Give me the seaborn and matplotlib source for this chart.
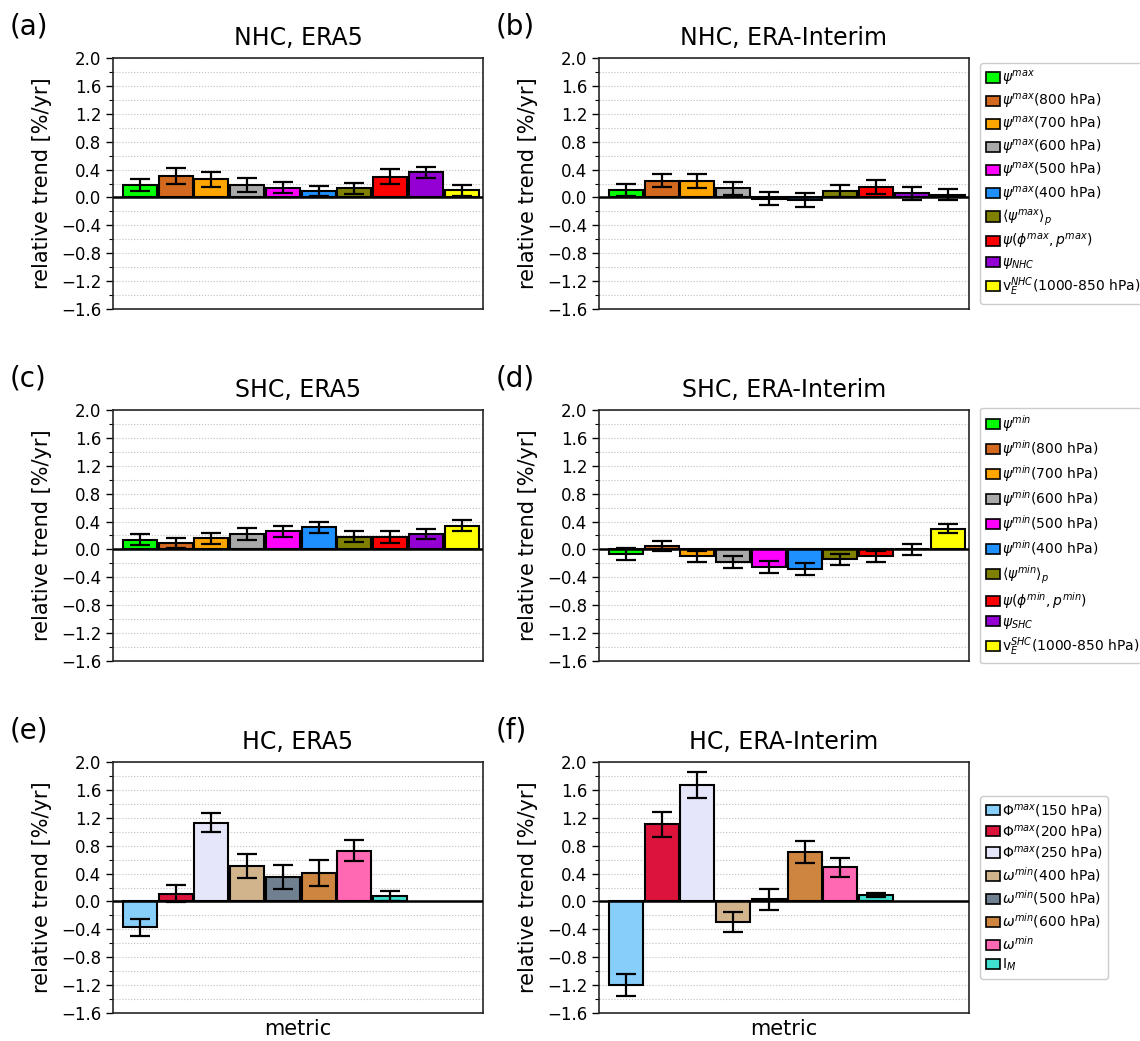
import numpy as np
import pandas as pd
import seaborn as sns
import matplotlib.pyplot as plt
from matplotlib.patches import Patch
from matplotlib.ticker import MultipleLocator

# ---- data ----
nhc_labels = [r'$\psi^{max}$', r'$\psi^{max}$(800 hPa)', r'$\psi^{max}$(700 hPa)',
              r'$\psi^{max}$(600 hPa)', r'$\psi^{max}$(500 hPa)', r'$\psi^{max}$(400 hPa)',
              r'$\langle\psi^{max}\rangle_p$', r'$\psi(\phi^{max}, p^{max})$',
              r'$\psi_{NHC}$', r'v$_E^{NHC}$(1000-850 hPa)']
shc_labels = [r'$\psi^{min}$', r'$\psi^{min}$(800 hPa)', r'$\psi^{min}$(700 hPa)',
              r'$\psi^{min}$(600 hPa)', r'$\psi^{min}$(500 hPa)', r'$\psi^{min}$(400 hPa)',
              r'$\langle\psi^{min}\rangle_p$', r'$\psi(\phi^{min}, p^{min})$',
              r'$\psi_{SHC}$', r'v$_E^{SHC}$(1000-850 hPa)']
hc_labels = [r'$\Phi^{max}$(150 hPa)', r'$\Phi^{max}$(200 hPa)', r'$\Phi^{max}$(250 hPa)',
             r'$\omega^{min}$(400 hPa)', r'$\omega^{min}$(500 hPa)', r'$\omega^{min}$(600 hPa)',
             r'$\omega^{min}$', r'I$_M$']

psi_colors = ['lime', 'chocolate', 'orange', 'darkgray', 'magenta',
              'dodgerblue', 'olive', 'red', 'darkviolet', 'yellow']
hc_colors = ['lightskyblue', 'crimson', 'lavender', 'tan', 'slategray',
             'peru', 'hotpink', 'turquoise']

nhc_era5 = [0.18, 0.31, 0.26, 0.18, 0.14, 0.09, 0.13, 0.30, 0.36, 0.10]
nhc_era5_err = [0.09, 0.11, 0.11, 0.10, 0.075, 0.075, 0.08, 0.105, 0.075, 0.075]
nhc_erai = [0.11, 0.24, 0.24, 0.13, -0.02, -0.04, 0.095, 0.15, 0.06, 0.04]
nhc_erai_err = [0.085, 0.09, 0.10, 0.09, 0.095, 0.10, 0.085, 0.10, 0.09, 0.075]

shc_era5 = [0.14, 0.09, 0.16, 0.22, 0.26, 0.32, 0.18, 0.18, 0.22, 0.34]
shc_era5_err = [0.08, 0.075, 0.083, 0.088, 0.08, 0.08, 0.08, 0.083, 0.076, 0.08]
shc_erai = [-0.07, 0.05, -0.10, -0.18, -0.25, -0.28, -0.14, -0.10, 0.0, 0.30]
shc_erai_err = [0.085, 0.076, 0.08, 0.09, 0.086, 0.08, 0.076, 0.083, 0.08, 0.07]

hc_era5 = [-0.37, 0.11, 1.13, 0.51, 0.35, 0.41, 0.73, 0.08]
hc_era5_err = [0.12, 0.125, 0.135, 0.17, 0.175, 0.185, 0.155, 0.07]
hc_erai = [-1.20, 1.11, 1.67, -0.30, 0.03, 0.71, 0.49, 0.09]
hc_erai_err = [0.155, 0.18, 0.18, 0.145, 0.15, 0.16, 0.14, 0.024]

panels = [
    ('(a)', 'NHC, ERA5', nhc_labels, psi_colors, nhc_era5, nhc_era5_err, False),
    ('(b)', 'NHC, ERA-Interim', nhc_labels, psi_colors, nhc_erai, nhc_erai_err, True),
    ('(c)', 'SHC, ERA5', shc_labels, psi_colors, shc_era5, shc_era5_err, False),
    ('(d)', 'SHC, ERA-Interim', shc_labels, psi_colors, shc_erai, shc_erai_err, True),
    ('(e)', 'HC, ERA5', hc_labels, hc_colors, hc_era5, hc_era5_err, False),
    ('(f)', 'HC, ERA-Interim', hc_labels, hc_colors, hc_erai, hc_erai_err, True),
]

sns.set_style('ticks')
plt.rcParams['font.family'] = ['DejaVu Sans']
for key in ['text.color', 'axes.labelcolor', 'xtick.color', 'ytick.color']:
    plt.rcParams[key] = 'black'

fig = plt.figure(figsize=(11.4, 10.41), dpi=100)
W, H = 1140, 1041
lefts = [113, 599]
tops = [58, 410, 762]
aw, ah = 370, 251

for i, (tag, title, labels, colors, vals, errs, show_leg) in enumerate(panels):
    row, col = divmod(i, 2)
    ax = fig.add_axes([lefts[col] / W, 1 - (tops[row] + ah) / H, aw / W, ah / H])
    df = pd.DataFrame({'metric': labels, 'trend': vals})
    sns.barplot(data=df, x='metric', y='trend', hue='metric', palette=colors,
                order=labels, hue_order=labels, legend=False, width=0.95,
                edgecolor='k', linewidth=1.5, saturation=1, ax=ax)
    ax.errorbar(np.arange(len(vals)), vals, yerr=errs, fmt='none', ecolor='k',
                elinewidth=1.6, capsize=7.5, capthick=1.6, zorder=5)
    ax.axhline(0, color='k', lw=1.8, zorder=4)

    ax.set_xlim(-0.75, 9.6)
    ax.set_ylim(-1.6, 2.0)
    ax.yaxis.set_major_locator(MultipleLocator(0.4))
    ax.yaxis.set_minor_locator(MultipleLocator(0.2))
    ax.yaxis.grid(True, which='both', linestyle=':', color='0.75', lw=0.8)
    ax.set_axisbelow(True)
    ax.set_xticks([])
    ax.tick_params(axis='y', which='major', labelsize=12, length=5, width=1)
    ax.tick_params(axis='y', which='minor', length=3, width=0.8)
    for sp in ax.spines.values():
        sp.set_visible(True)
        sp.set_color('0.15')
        sp.set_linewidth(1.2)

    ax.set_ylabel('relative trend [%/yr]', fontsize=15, labelpad=6)
    ax.set_xlabel('metric' if row == 2 else '', fontsize=15, labelpad=4)
    ax.set_title(title, fontsize=17, pad=9)
    ax.text(-103 / aw, 1 + 45 / ah, tag, transform=ax.transAxes,
            fontsize=20, ha='left', va='top')

    if show_leg:
        handles = [Patch(facecolor=c, edgecolor='k', linewidth=1.2) for c in colors]
        ax.legend(handles, labels, loc='center left', bbox_to_anchor=(1.0, 0.5),
                  fontsize=10, handlelength=1.0, handleheight=0.75,
                  handletextpad=0.15, labelspacing=0.3, borderpad=0.4,
                  borderaxespad=0.8, frameon=True, framealpha=1, edgecolor='0.8')

fig.savefig('out.png', dpi=100)
